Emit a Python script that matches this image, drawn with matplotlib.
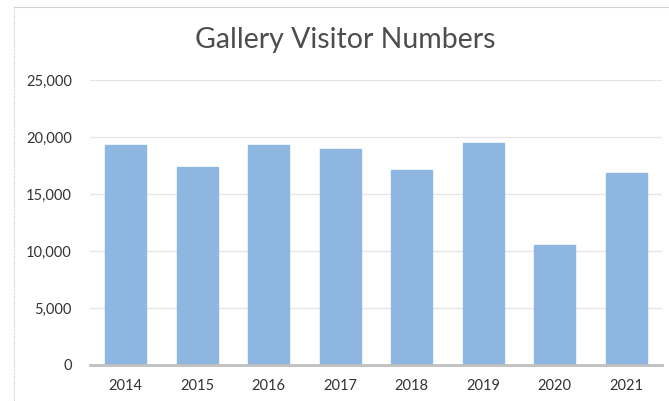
import matplotlib
matplotlib.use("Agg")
import matplotlib.pyplot as plt
from matplotlib.ticker import FuncFormatter, MultipleLocator

years = ["2014", "2015", "2016", "2017", "2018", "2019", "2020", "2021"]
visitors = [19300, 17400, 19300, 18950, 17100, 19450, 10500, 16850]
title = "Gallery Visitor Numbers"

fig = plt.figure(figsize=(6.69, 4.01), dpi=100)
fig.patch.set_facecolor("white")

# chart border (left and top visible)
fig.add_artist(plt.Line2D([14/669, 14/669], [0, 1 - 7/401], transform=fig.transFigure,
                          color="#C8C8C8", lw=0.8, linestyle=(0, (1, 1))))
fig.add_artist(plt.Line2D([14/669, 1], [1 - 7/401, 1 - 7/401], transform=fig.transFigure,
                          color="#D0D0D0", lw=0.8))

ax = fig.add_axes([90/669, 36/401, (662 - 90)/669, (365 - 80)/401])
x = range(len(years))
ax.bar(x, visitors, width=0.575, color="#8DB6E0", edgecolor="#8DB6E0", zorder=3)

ax.set_xlim(-0.5, len(years) - 0.5)
ax.set_ylim(0, 25000)
ax.yaxis.set_major_locator(MultipleLocator(5000))
ax.yaxis.set_major_formatter(FuncFormatter(lambda v, p: f"{int(v):,}"))
ax.set_xticks(list(x))
ax.set_xticklabels(years)

for s in ["top", "right", "left"]:
    ax.spines[s].set_visible(False)
ax.spines["bottom"].set_color("#BFBFBF")
ax.spines["bottom"].set_linewidth(2)
ax.spines["bottom"].set_zorder(4)

ax.grid(axis="y", color="#E6E6E6", linewidth=1, zorder=0)
ax.tick_params(axis="both", length=0, labelsize=10.5, labelcolor="#333333")
ax.tick_params(axis="x", pad=10)
ax.tick_params(axis="y", pad=13)
for lab in ax.get_xticklabels() + ax.get_yticklabels():
    lab.set_family("Lato")

fig.text(345/669, 1 - 40/401, title, ha="center", va="center", fontsize=20.5,
         family="Lato", fontweight="normal", color="#4D4D4D")

fig.savefig("out.png", dpi=100)
